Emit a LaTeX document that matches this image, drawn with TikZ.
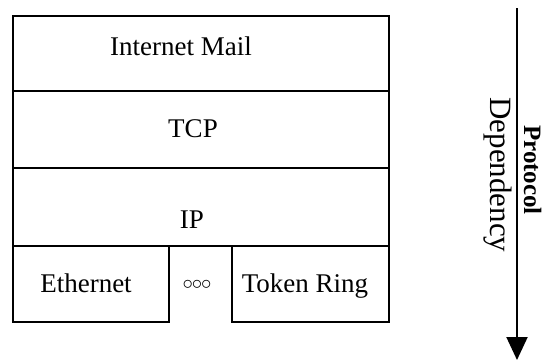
\documentclass[tikz,border=0pt]{standalone}
\usepackage{fontspec}
\setmainfont{Liberation Serif}
\usetikzlibrary{arrows.meta}
\begin{document}
\begin{tikzpicture}[x=1pt,y=-1pt,
  layer/.style={draw,line width=2pt,rectangle,inner sep=0pt},
  lbl/.style={font=\fontsize{27}{30}\selectfont,inner sep=0pt,anchor=base},
  axis/.style={line width=2pt,-{Triangle[length=23pt,width=21pt]}}]
\useasboundingbox (0,0) rectangle (545,362);
% protocol stack
\node[layer,minimum width=376pt,minimum height=75pt] (mail) at (201,53.5) {};
\node[layer,minimum width=376pt,minimum height=77pt] (tcp) at (201,129.5) {};
\node[layer,minimum width=376pt,minimum height=78pt] (ip) at (201,207) {};
\node[layer,minimum width=156pt,minimum height=76pt] (eth) at (91,284) {};
\node[layer,minimum width=157pt,minimum height=76pt] (tr) at (310.5,284) {};
\node[lbl] (tmail) at (181,55) {Internet Mail};
\node[lbl] (ttcp) at (193,137) {TCP};
\node[lbl] (tip) at (192,228) {IP};
\node[lbl] (teth) at (86,292) {Ethernet};
\node[lbl] (ttr) at (305,292) {Token Ring};
\node[font=\fontsize{22}{22}\selectfont,inner sep=0pt] (dots) at (197,285) {$\circ\mkern-5mu\circ\mkern-5mu\circ$};
% dependency axis
\coordinate (atop) at (517,8);
\coordinate (abot) at (517,360);
\draw[axis] (atop) -- (abot);
\node[rotate=-90,inner sep=0pt,anchor=base,font=\fontsize{25}{25}\selectfont\bfseries] (prot) at (524,170) {Protocol};
\node[rotate=-90,inner sep=0pt,anchor=base,font=\fontsize{31}{31}\selectfont] (dep) at (490,175) {Dependency};
\end{tikzpicture}
\end{document}
